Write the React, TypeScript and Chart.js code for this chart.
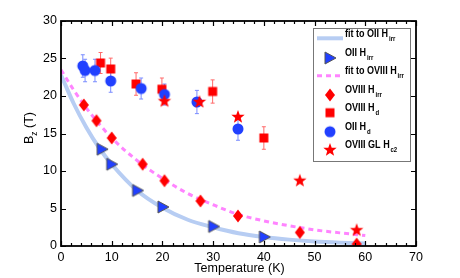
import React, { useEffect, useRef } from 'react';
import { Chart, registerables } from 'chart.js';
Chart.register(...registerables);

// ---- data ----
const fitT = [0, 2.5, 5, 7.5, 10, 15, 20, 25, 30, 35, 40, 45, 50, 55, 60];
const fitOIIvals = [22.8, 19.0, 15.8, 13.1, 10.9, 7.4, 5.1, 3.5, 2.5, 1.7, 1.2, 0.85, 0.6, 0.45, 0.35];
const fitOVIIIvals = [23.5, 20.8, 18.4, 16.3, 14.4, 11.4, 9.0, 7.0, 5.5, 4.2, 3.35, 2.7, 2.15, 1.75, 1.4];

const oiiHirrT = [8.1, 10.0, 15.1, 20.1, 30.1, 40.1];
const oiiHirrB = [12.9, 10.9, 7.4, 5.2, 2.6, 1.2];

const oviiiHirrT = [4.5, 7.0, 10.0, 16.1, 20.4, 27.5, 34.9, 47.1, 58.3];
const oviiiHirrB = [18.8, 16.7, 14.4, 10.9, 8.7, 6.0, 4.0, 1.8, 0.25];

const oviiiHdT = [7.8, 9.8, 14.8, 19.9, 29.9, 40.0];
const oviiiHdB = [24.4, 23.6, 21.6, 20.9, 20.6, 14.4];
const oviiiHdErr = [1.4, 1.45, 1.5, 1.5, 1.55, 1.5];

const oiiHdT = [4.3, 4.75, 6.7, 9.8, 15.8, 20.4, 26.8, 34.9];
const oiiHdB = [24.0, 23.4, 23.4, 22.0, 21.0, 20.2, 19.2, 15.6];
const oiiHdErr = [1.5, 1.5, 1.5, 1.5, 1.4, 1.4, 1.55, 1.5];

const glHc2T = [20.4, 27.3, 34.9, 47.1, 58.3];
const glHc2B = [19.3, 19.2, 17.2, 8.7, 2.1];

const xTicks = [0, 10, 20, 30, 40, 50, 60, 70];
const yTicks = [0, 5, 10, 15, 20, 25, 30];

const BLUE = '#2140ff';
const RED = '#ff0000';
const FITBLUE = '#b7cdf3';
const PINK = '#ff84ff';
const FONT = 'Liberation Sans, Arial, sans-serif';

function pts(xs: number[], ys: number[]) {
  return xs.map((x, i) => ({ x, y: ys[i] }));
}

function makeMarker(kind: string): HTMLCanvasElement {
  const c = document.createElement('canvas');
  c.width = 18; c.height = 18;
  const ctx = c.getContext('2d')!;
  const cx = 9, cy = 9;
  ctx.beginPath();
  if (kind === 'tri') {
    ctx.moveTo(cx - 5, cy - 6);
    ctx.lineTo(cx + 6, cy);
    ctx.lineTo(cx - 5, cy + 6);
    ctx.closePath();
    ctx.fillStyle = BLUE; ctx.fill();
    ctx.strokeStyle = '#555'; ctx.lineWidth = 1; ctx.stroke();
  } else if (kind === 'diamond') {
    ctx.moveTo(cx, cy - 6.5);
    ctx.lineTo(cx + 5, cy);
    ctx.lineTo(cx, cy + 6.5);
    ctx.lineTo(cx - 5, cy);
    ctx.closePath();
    ctx.fillStyle = RED; ctx.fill();
  } else if (kind === 'square') {
    ctx.rect(cx - 4.5, cy - 4.5, 9, 9);
    ctx.fillStyle = RED; ctx.fill();
  } else if (kind === 'circle') {
    ctx.arc(cx, cy, 5.5, 0, Math.PI * 2);
    ctx.fillStyle = BLUE; ctx.fill();
  } else if (kind === 'star') {
    for (let i = 0; i < 10; i++) {
      const r = i % 2 === 0 ? 7 : 2.9;
      const a = -Math.PI / 2 + (i * Math.PI) / 5;
      const x = cx + r * Math.cos(a), y = cy + r * Math.sin(a);
      if (i === 0) ctx.moveTo(x, y); else ctx.lineTo(x, y);
    }
    ctx.closePath();
    ctx.fillStyle = RED; ctx.fill();
  }
  return c;
}

export default function App() {
  const ref = useRef<HTMLCanvasElement | null>(null);
  useEffect(() => {
    document.body.style.margin = '0';
    const canvas = ref.current!;
    const mk = {
      tri: makeMarker('tri'),
      diamond: makeMarker('diamond'),
      square: makeMarker('square'),
      circle: makeMarker('circle'),
      star: makeMarker('star'),
    };

    const errorBars = {
      id: 'errorBars',
      beforeDatasetsDraw(chart: any) {
        const { ctx, scales } = chart;
        const xs = scales.x, ys = scales.y;
        const sets = [
          { t: oviiiHdT, b: oviiiHdB, e: oviiiHdErr, c: '#ff6a6a' },
          { t: oiiHdT, b: oiiHdB, e: oiiHdErr, c: '#7a8cff' },
        ];
        ctx.save();
        ctx.lineWidth = 1;
        for (const s of sets) {
          ctx.strokeStyle = s.c;
          s.t.forEach((t, i) => {
            const x = xs.getPixelForValue(t);
            const y1 = ys.getPixelForValue(s.b[i] + s.e[i]);
            const y2 = ys.getPixelForValue(s.b[i] - s.e[i]);
            ctx.beginPath();
            ctx.moveTo(x, y1); ctx.lineTo(x, y2);
            ctx.moveTo(x - 2, y1); ctx.lineTo(x + 2, y1);
            ctx.moveTo(x - 2, y2); ctx.lineTo(x + 2, y2);
            ctx.stroke();
          });
        }
        ctx.restore();
      },
    };

    const frame = {
      id: 'frame',
      afterDraw(chart: any) {
        const { ctx, chartArea: a, scales } = chart;
        const xs = scales.x, ys = scales.y;
        ctx.save();
        ctx.strokeStyle = '#000';
        ctx.lineWidth = 1.8;
        ctx.strokeRect(a.left, a.top, a.right - a.left, a.bottom - a.top);
        ctx.lineWidth = 1.2;
        ctx.beginPath();
        for (let v = xs.min; v <= xs.max + 1e-9; v += 2) {
          const x = Math.round(xs.getPixelForValue(v)) + 0.5;
          const L = v % 10 === 0 ? 5 : 3;
          ctx.moveTo(x, a.bottom); ctx.lineTo(x, a.bottom - L);
          ctx.moveTo(x, a.top); ctx.lineTo(x, a.top + L);
        }
        for (const v of yTicks) {
          const y = Math.round(ys.getPixelForValue(v)) + 0.5;
          ctx.moveTo(a.left, y); ctx.lineTo(a.left + 5, y);
          ctx.moveTo(a.right, y); ctx.lineTo(a.right - 5, y);
        }
        ctx.stroke();

        // axis titles
        ctx.fillStyle = '#000';
        ctx.font = `12.5px ${FONT}`;
        ctx.textAlign = 'center';
        ctx.textBaseline = 'middle';
        ctx.fillText('Temperature (K)', (a.left + a.right) / 2 + 1, 269);

        ctx.save();
        ctx.translate(30, 128);
        ctx.rotate(-Math.PI / 2);
        ctx.textAlign = 'left';
        const w1 = ctx.measureText('B').width;
        ctx.font = `8.5px ${FONT}`;
        const w2 = ctx.measureText('z').width;
        ctx.font = `12.5px ${FONT}`;
        const w3 = ctx.measureText(' (T)').width;
        const tot = w1 + w2 + w3;
        let x0 = -tot / 2;
        ctx.fillText('B', x0, 0);
        ctx.font = `8.5px ${FONT}`;
        ctx.fillText('z', x0 + w1, 5);
        ctx.font = `12.5px ${FONT}`;
        ctx.fillText(' (T)', x0 + w1 + w2, 0);
        ctx.restore();

        // legend
        const lx = 313, ly = 28, lw = 97, lh = 133;
        ctx.fillStyle = '#fff';
        ctx.fillRect(lx, ly, lw, lh);
        ctx.strokeStyle = '#777';
        ctx.lineWidth = 1;
        ctx.strokeRect(lx + 0.5, ly + 0.5, lw, lh);

        const rows: { kind: string; y: number; main: string; sub: string }[] = [
          { kind: 'fitOII', y: 38.3, main: 'fit to OII H', sub: 'irr' },
          { kind: 'tri', y: 58, main: 'OII H', sub: 'irr' },
          { kind: 'fitOVIII', y: 75.7, main: 'fit to OVIII H', sub: 'irr' },
          { kind: 'diamond', y: 95, main: 'OVIII H', sub: 'irr' },
          { kind: 'square', y: 112.7, main: 'OVIII H', sub: 'd' },
          { kind: 'circle', y: 131.7, main: 'OII H', sub: 'd' },
          { kind: 'star', y: 150, main: 'OVIII GL H', sub: 'c2' },
        ];
        for (const r of rows) {
          if (r.kind === 'fitOII') {
            ctx.strokeStyle = FITBLUE; ctx.lineWidth = 4; ctx.setLineDash([]);
            ctx.beginPath(); ctx.moveTo(317, r.y); ctx.lineTo(343, r.y); ctx.stroke();
          } else if (r.kind === 'fitOVIII') {
            ctx.strokeStyle = PINK; ctx.lineWidth = 3; ctx.setLineDash([5, 4]);
            ctx.beginPath(); ctx.moveTo(317, r.y); ctx.lineTo(343, r.y); ctx.stroke();
            ctx.setLineDash([]);
          } else {
            const img = (mk as any)[r.kind];
            ctx.drawImage(img, 330 - img.width / 2, r.y - img.height / 2);
          }
          ctx.save();
          ctx.translate(345, 0);
          ctx.scale(0.86, 1);
          ctx.fillStyle = '#000';
          ctx.textAlign = 'left';
          ctx.textBaseline = 'middle';
          ctx.font = `bold 10.5px ${FONT}`;
          const mw = ctx.measureText(r.main).width;
          ctx.fillText(r.main, 0, r.y - 4.5);
          ctx.font = `bold 7px ${FONT}`;
          ctx.fillText(r.sub, mw + 1, r.y + 0.5);
          ctx.restore();
        }
        ctx.restore();
      },
    };

    const chart = new Chart(canvas, {
      type: 'scatter',
      data: {
        datasets: [
          {
            label: 'fit to OII Hirr',
            data: pts(fitT, fitOIIvals),
            showLine: true,
            borderColor: FITBLUE,
            borderWidth: 4,
            pointRadius: 0,
            cubicInterpolationMode: 'monotone',
            order: 7,
          } as any,
          {
            label: 'OII Hirr',
            data: pts(oiiHirrT, oiiHirrB),
            pointStyle: mk.tri,
            order: 6,
          },
          {
            label: 'fit to OVIII Hirr',
            data: pts(fitT, fitOVIIIvals),
            showLine: true,
            borderColor: PINK,
            borderWidth: 3,
            borderDash: [5, 4],
            pointRadius: 0,
            cubicInterpolationMode: 'monotone',
            order: 5,
          } as any,
          {
            label: 'OVIII Hirr',
            data: pts(oviiiHirrT, oviiiHirrB),
            pointStyle: mk.diamond,
            order: 4,
          },
          {
            label: 'OVIII Hd',
            data: pts(oviiiHdT, oviiiHdB),
            pointStyle: mk.square,
            order: 3,
          },
          {
            label: 'OII Hd',
            data: pts(oiiHdT, oiiHdB),
            pointStyle: mk.circle,
            order: 2,
          },
          {
            label: 'OVIII GL Hc2',
            data: pts(glHc2T, glHc2B),
            pointStyle: mk.star,
            order: 1,
          },
        ],
      },
      options: {
        animation: false,
        responsive: false,
        maintainAspectRatio: false,
        layout: { padding: { top: 21, right: 44, left: 0, bottom: 0 } },
        plugins: { legend: { display: false }, tooltip: { enabled: false } },
        scales: {
          x: {
            type: 'linear',
            min: 0,
            max: 70,
            afterBuildTicks: (s: any) => { s.ticks = xTicks.map((v) => ({ value: v })); },
            ticks: { color: '#000', font: { family: FONT, size: 12.5 }, padding: 4, maxRotation: 0 },
            grid: { display: false, drawTicks: false },
            border: { display: false },
            afterFit: (s: any) => { s.height = 32; },
          },
          y: {
            type: 'linear',
            min: 0,
            max: 30,
            afterBuildTicks: (s: any) => { s.ticks = yTicks.map((v) => ({ value: v })); },
            ticks: { color: '#000', font: { family: FONT, size: 12.5 }, padding: 4 },
            grid: { display: false, drawTicks: false },
            border: { display: false },
            afterFit: (s: any) => { s.width = 61; },
          },
        },
      },
      plugins: [errorBars, frame],
    });
    return () => chart.destroy();
  }, []);

  return (
    <div style={{ width: 460, height: 278 }}>
      <canvas ref={ref} width={460} height={278} style={{ display: 'block', width: 460, height: 278 }} />
    </div>
  );
}
